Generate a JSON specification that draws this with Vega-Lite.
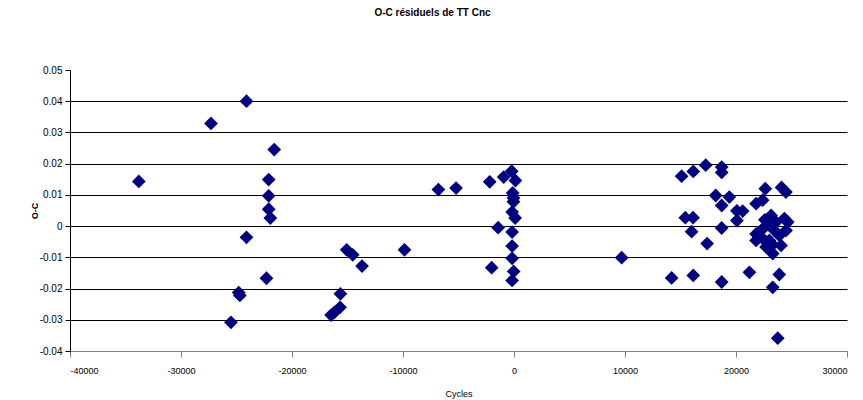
{
  "$schema": "https://vega.github.io/schema/vega-lite/v6.json",
  "autosize": {"type": "none"},
  "width": 777,
  "height": 281,
  "padding": {"left": 70, "top": 70, "right": 16, "bottom": 49},
  "background": "white",
  "config": {
    "view": {"stroke": null},
    "font": "Liberation Sans"
  },
  "title": {
    "text": "O-C résiduels de TT Cnc",
    "fontSize": 10,
    "fontWeight": "bold",
    "font": "Liberation Sans",
    "color": "#000000",
    "anchor": "middle",
    "offset": 47,
    "dx": -26
  },
  "data": {
    "values": [
      {"cycle": -33800, "oc": 0.0143},
      {"cycle": -27300, "oc": 0.0329},
      {"cycle": -24100, "oc": 0.0400},
      {"cycle": -21600, "oc": 0.0245},
      {"cycle": -22100, "oc": 0.0149},
      {"cycle": -22100, "oc": 0.0097},
      {"cycle": -22100, "oc": 0.0054},
      {"cycle": -21950, "oc": 0.0026},
      {"cycle": -24100, "oc": -0.0036},
      {"cycle": -22300, "oc": -0.0167},
      {"cycle": -24800, "oc": -0.0213},
      {"cycle": -24700, "oc": -0.0222},
      {"cycle": -25500, "oc": -0.0308},
      {"cycle": -15070, "oc": -0.0076},
      {"cycle": -14530, "oc": -0.0092},
      {"cycle": -13690, "oc": -0.0128},
      {"cycle": -15640, "oc": -0.0217},
      {"cycle": -15670, "oc": -0.0260},
      {"cycle": -16180, "oc": -0.0276},
      {"cycle": -16480, "oc": -0.0285},
      {"cycle": -9870, "oc": -0.0076},
      {"cycle": -6810, "oc": 0.0117},
      {"cycle": -5220, "oc": 0.0122},
      {"cycle": -2190, "oc": 0.0142},
      {"cycle": -1430, "oc": -0.0005},
      {"cycle": -2010, "oc": -0.0133},
      {"cycle": -930, "oc": 0.0157},
      {"cycle": -210, "oc": 0.0176},
      {"cycle": 130, "oc": 0.0146},
      {"cycle": -120, "oc": 0.0106},
      {"cycle": -50, "oc": 0.0090},
      {"cycle": -50, "oc": 0.0078},
      {"cycle": -170, "oc": 0.0045},
      {"cycle": 100, "oc": 0.0026},
      {"cycle": -170, "oc": -0.0019},
      {"cycle": -170, "oc": -0.0064},
      {"cycle": -170, "oc": -0.0103},
      {"cycle": -30, "oc": -0.0145},
      {"cycle": -170, "oc": -0.0174},
      {"cycle": 9700, "oc": -0.0101},
      {"cycle": 14200, "oc": -0.0166},
      {"cycle": 16150, "oc": -0.0158},
      {"cycle": 15100, "oc": 0.0160},
      {"cycle": 16150, "oc": 0.0175},
      {"cycle": 17270, "oc": 0.0195},
      {"cycle": 18710, "oc": 0.0189},
      {"cycle": 18710, "oc": 0.0172},
      {"cycle": 15430, "oc": 0.0027},
      {"cycle": 16130, "oc": 0.0027},
      {"cycle": 16000, "oc": -0.0018},
      {"cycle": 17400, "oc": -0.0056},
      {"cycle": 18170, "oc": 0.0098},
      {"cycle": 19400, "oc": 0.0093},
      {"cycle": 18710, "oc": 0.0066},
      {"cycle": 18710, "oc": -0.0006},
      {"cycle": 18710, "oc": -0.0179},
      {"cycle": 20080, "oc": 0.0049},
      {"cycle": 20600, "oc": 0.0048},
      {"cycle": 20080, "oc": 0.0018},
      {"cycle": 21810, "oc": 0.0072},
      {"cycle": 22400, "oc": 0.0083},
      {"cycle": 22640, "oc": 0.0120},
      {"cycle": 24100, "oc": 0.0124},
      {"cycle": 24500, "oc": 0.0109},
      {"cycle": 21210, "oc": -0.0148},
      {"cycle": 23900, "oc": -0.0155},
      {"cycle": 23310, "oc": -0.0196},
      {"cycle": 23760, "oc": -0.0359},
      {"cycle": 23160, "oc": 0.0034},
      {"cycle": 24360, "oc": 0.0024},
      {"cycle": 24510, "oc": -0.0014},
      {"cycle": 22110, "oc": -0.0019},
      {"cycle": 21810, "oc": -0.0046},
      {"cycle": 22710, "oc": -0.0067},
      {"cycle": 23310, "oc": -0.0088},
      {"cycle": 24060, "oc": -0.0062},
      {"cycle": 23910, "oc": -0.0030},
      {"cycle": 22710, "oc": 0.0002},
      {"cycle": 23610, "oc": 0.0013},
      {"cycle": 22410, "oc": -0.0040},
      {"cycle": 23010, "oc": -0.0046},
      {"cycle": 23460, "oc": -0.0014},
      {"cycle": 24660, "oc": 0.0013},
      {"cycle": 21810, "oc": -0.0025},
      {"cycle": 22600, "oc": 0.0020},
      {"cycle": 23300, "oc": -0.0060}
    ]
  },
  "mark": {"type": "point", "shape": "diamond", "filled": true, "size": 190, "color": "#000080", "opacity": 1},
  "encoding": {
    "x": {
      "field": "cycle",
      "type": "quantitative",
      "scale": {"domain": [-40000, 30000], "nice": false, "zero": false},
      "axis": {
        "title": "Cycles",
        "values": [-40000, -30000, -20000, -10000, 0, 10000, 20000, 30000],
        "labelExpr": "replace(format(datum.value, 'd'), '\u2212', '-')",
        "grid": false,
        "domainColor": "#808080",
        "tickColor": "#808080",
        "tickSize": 6,
        "labelPadding": 9,
        "labelFont": "Liberation Sans",
        "labelFontSize": 9,
        "labelColor": "#000000",
        "titleFont": "Liberation Sans",
        "titleFontSize": 9,
        "titleFontWeight": "normal",
        "titleColor": "#000000",
        "titlePadding": 14
      }
    },
    "y": {
      "field": "oc",
      "type": "quantitative",
      "scale": {"domain": [-0.04, 0.05], "nice": false, "zero": false},
      "axis": {
        "title": "O-C",
        "values": [-0.04, -0.03, -0.02, -0.01, 0, 0.01, 0.02, 0.03, 0.04, 0.05],
        "labelExpr": "datum.value == 0 ? '0' : replace(format(datum.value, '.2f'), '\u2212', '-')",
        "grid": true,
        "gridColor": "#000000",
        "gridOpacity": {"condition": {"test": "datum.value > 0.045", "value": 0}, "value": 1},
        "domainColor": "#000000",
        "tickColor": "#000000",
        "tickSize": 5,
        "labelPadding": 3,
        "labelFont": "Liberation Sans",
        "labelFontSize": 10,
        "labelColor": "#000000",
        "titleFont": "Liberation Sans",
        "titleFontSize": 9,
        "titleFontWeight": "bold",
        "titleColor": "#000000",
        "titlePadding": 0
      }
    }
  }
}
